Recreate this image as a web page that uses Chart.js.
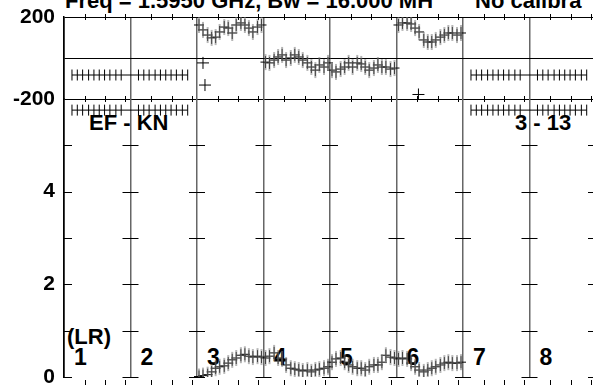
<!DOCTYPE html>
<html lang="en">
<head>
<meta charset="UTF-8" />
<title>EF - KN spectrum</title>
<script src="https://cdn.jsdelivr.net/npm/chart.js"></script>
<style>
  * { box-sizing: border-box; margin: 0; padding: 0; }
  body {
    width: 593px; height: 385px; overflow: hidden; position: relative;
    background: white; color: black;
    font-family: 'Liberation Sans', Arial, sans-serif; font-weight: bold;
  }
  .lbl { position: absolute; font-size: 22px; line-height: 22px; white-space: pre; z-index: 0; }
  .ifn { font-size: 23px; line-height: 23px; }
  .panel { position: absolute; left: 0; z-index: 1; }
  #phaseWrap { top: 0; }
  #ampWrap { top: 85px; }
</style>
</head>
<body>

  <div class="lbl" style="left:65px; top:-10px;">Freq = 1.5950 GHz, Bw = 16.000 MH</div>
  <div class="lbl" style="left:475px; top:-10px;">No calibra</div>
  <div class="lbl" style="left:89px; top:112px;">EF - KN</div>
  <div class="lbl" style="left:515px; top:112px;">3 - 13</div>
  <div class="lbl" style="left:67px; top:326px;">(LR)</div>
  <div id="ifNames"></div>

  <div class="panel" id="phaseWrap"><canvas id="phaseChart" width="606" height="120"></canvas></div>
  <div class="panel" id="ampWrap"><canvas id="ampChart" width="606" height="320"></canvas></div>

  <script>
    const ifLabels = ['1', '2', '3', '4', '5', '6', '7', '8'];
    const phaseTicks = [-200, 0, 200];
    const ampTicks = [0, 2, 4];
    const ampMinor = [0, 1, 2, 3, 4, 5];
    const freqTickFrac = [0.31, 0.62, 0.92];

    // channel positions inside one IF, as a fraction of the IF width
    const flatChan = [0.12, 0.20, 0.28, 0.37, 0.45, 0.53, 0.61, 0.69, 0.78, 0.86];
    const liveChan = [0.03, 0.09, 0.16, 0.22, 0.28, 0.34, 0.41, 0.47,
                      0.53, 0.59, 0.66, 0.72, 0.78, 0.84, 0.91, 0.97];

    // IFs 1, 2, 7 and 8: no signal, constant values
    const flatIFs = [0, 1, 6, 7];
    const flatPhase = [-83, -83, -83, -83, -83, -83, -83, -83, -83, -83];
    const flatAmp = [5.76, 5.76, 5.76, 5.76, 5.76, 5.76, 5.76, 5.76, 5.76, 5.76];

    // IFs 3 - 6
    const liveIFs = [2, 3, 4, 5];
    const phaseIF3 = [161, 137, 112, 98, 102, 127, 151, 146, 122, 161, 171, 161, 146, 127, 151, 161];
    const phaseIF4 = [-20, -24, -10, 5, 15, -10, 0, 15, 5, -10, -24, -44, -59, -34, -44, -24];
    const phaseIF5 = [-59, -68, -54, -44, -24, -44, -24, -29, -44, -59, -49, -34, -44, -44, -54, -49];
    const phaseIF6 = [161, 171, 171, 166, 146, 127, 88, 78, 78, 88, 102, 112, 122, 122, 112, 122];

    const ampIF3 = [0.01, 0.03, 0.05, 0.11, 0.19, 0.22, 0.24, 0.30, 0.37, 0.41, 0.47, 0.49, 0.45, 0.43, 0.45, 0.43];
    const ampIF4 = [0.41, 0.45, 0.52, 0.41, 0.39, 0.26, 0.19, 0.17, 0.15, 0.13, 0.15, 0.11, 0.15, 0.17, 0.19, 0.22];
    const ampIF5 = [0.32, 0.39, 0.41, 0.32, 0.26, 0.22, 0.19, 0.19, 0.15, 0.22, 0.26, 0.26, 0.32, 0.47, 0.43, 0.41];
    const ampIF6 = [0.39, 0.41, 0.39, 0.30, 0.22, 0.15, 0.11, 0.15, 0.19, 0.22, 0.26, 0.30, 0.32, 0.30, 0.30, 0.32];

    // odd single channels in the phase panel
    const strayX = [2.09, 2.12, 5.33];
    const strayPhase = [-24, -132, -178];

    // IF number labels under the data
    const names = document.getElementById('ifNames');
    ifLabels.forEach((t, i) => {
      const d = document.createElement('div');
      d.className = 'lbl ifn';
      d.style.left = (74 + i * 66.5) + 'px';
      d.style.top = '346px';
      d.textContent = t;
      names.appendChild(d);
    });

    function trace(ifs, chan, lists) {
      const pts = [];
      ifs.forEach((k, n) => {
        if (n > 0 && ifs[n - 1] !== k - 1) pts.push({ x: k, y: null });
        chan.forEach((f, j) => pts.push({ x: k + f, y: lists[n][j] }));
      });
      return pts;
    }

    const font = { family: "'Liberation Sans', Arial, sans-serif", weight: 'bold', size: 21 };

    // short tick marks on the frame and on the IF dividers
    const frameTicks = {
      id: 'frameTicks',
      beforeDatasetsDraw(chart, args, opts) {
        const { ctx, chartArea, scales: { x, y } } = chart;
        ctx.save();
        ctx.strokeStyle = '#000';
        ctx.lineWidth = 1;
        ctx.beginPath();
        for (let i = 0; i < ifLabels.length; i++) {
          freqTickFrac.forEach(f => {
            const px = Math.round(x.getPixelForValue(i + f)) + 0.5;
            opts.edges.forEach(e => {
              const py = e === 'top' ? chartArea.top : e === 'bottom' ? chartArea.bottom : e;
              ctx.moveTo(px, py - 3);
              ctx.lineTo(px, py + 3);
            });
          });
        }
        (opts.yMarks || []).forEach(v => {
          const py = Math.round(y.getPixelForValue(v)) + 0.5;
          for (let i = 0; i <= ifLabels.length; i++) {
            const px = x.getPixelForValue(i);
            ctx.moveTo(i === 0 ? px : px - 8, py);
            ctx.lineTo(px + 8, py);
          }
        });
        ctx.stroke();
        ctx.restore();
      }
    };

    function xAxis() {
      return {
        type: 'linear', min: 0, max: 8,
        ticks: { display: false, stepSize: 1 },
        grid: {
          drawTicks: false,
          color: c => c.tick && c.tick.value === 0 ? '#000' : '#666',
          lineWidth: 1.5
        },
        border: { display: false }
      };
    }

    function liveSets(lists) {
      const pts = trace(liveIFs, liveChan, lists);
      return [
        { data: pts, pointStyle: 'line', pointRotation: 90, pointRadius: 8,
          pointBorderWidth: 2, pointBorderColor: 'rgba(120,120,120,0.55)', showLine: false },
        { data: pts, pointStyle: 'line', pointRotation: 90, pointRadius: 6,
          pointBorderWidth: 1, pointBorderColor: '#000', showLine: false },
        { data: pts, pointStyle: 'line', pointRotation: 0, pointRadius: 5,
          pointBorderWidth: 1, pointBorderColor: '#000', showLine: false }
      ];
    }

    // Phase panel
    new Chart(document.getElementById('phaseChart'), {
      type: 'scatter',
      data: {
        datasets: [
          { data: trace(flatIFs, flatChan, [flatPhase, flatPhase, flatPhase, flatPhase]),
            showLine: true, spanGaps: false, borderColor: '#000', borderWidth: 1,
            pointStyle: 'line', pointRotation: 90, pointRadius: 5.5,
            pointBorderWidth: 1, pointBorderColor: '#000' },
          ...liveSets([phaseIF3, phaseIF4, phaseIF5, phaseIF6]),
          { data: strayX.map((v, i) => ({ x: v, y: strayPhase[i] })),
            pointStyle: 'cross', pointRadius: 6, pointBorderWidth: 1,
            pointBorderColor: '#000', showLine: false }
        ]
      },
      options: {
        responsive: false,
        animation: false,
        events: [],
        layout: { padding: { left: 0, right: 10, top: 17, bottom: 21 } },
        plugins: {
          legend: { display: false },
          tooltip: { enabled: false },
          frameTicks: { edges: ['top', 'bottom'] }
        },
        scales: {
          x: xAxis(),
          y: {
            min: -200, max: 200,
            afterBuildTicks: a => { a.ticks = phaseTicks.map(v => ({ value: v })); },
            afterFit: s => { s.width = 64; },
            ticks: { font, color: '#000', padding: 0, callback: v => v === 0 ? '' : v },
            grid: { color: '#000', lineWidth: 1, drawTicks: true, tickLength: 9, tickColor: 'rgba(0,0,0,0)' },
            border: { color: '#000', width: 1.5 }
          }
        }
      },
      plugins: [frameTicks]
    });

    // Amplitude panel
    new Chart(document.getElementById('ampChart'), {
      type: 'scatter',
      data: {
        datasets: [
          { data: trace(flatIFs, flatChan, [flatAmp, flatAmp, flatAmp, flatAmp]),
            showLine: true, spanGaps: false, borderColor: '#000', borderWidth: 1,
            pointStyle: 'line', pointRotation: 90, pointRadius: 5.5,
            pointBorderWidth: 1, pointBorderColor: '#000' },
          ...liveSets([ampIF3, ampIF4, ampIF5, ampIF6])
        ]
      },
      options: {
        responsive: false,
        animation: false,
        events: [],
        layout: { padding: { left: 0, right: 10, top: 14, bottom: 28 } },
        plugins: {
          legend: { display: false },
          tooltip: { enabled: false },
          frameTicks: { edges: [298], yMarks: ampMinor }
        },
        scales: {
          x: xAxis(),
          y: {
            min: 0, max: 6,
            afterBuildTicks: a => { a.ticks = ampTicks.map(v => ({ value: v })); },
            afterFit: s => { s.width = 64; },
            ticks: { font, color: '#000', padding: 0 },
            grid: { color: 'rgba(0,0,0,0)', drawTicks: true, tickLength: 9, tickColor: 'rgba(0,0,0,0)' },
            border: { color: '#000', width: 1.5 }
          }
        }
      },
      plugins: [frameTicks]
    });
  </script>

</body>
</html>
